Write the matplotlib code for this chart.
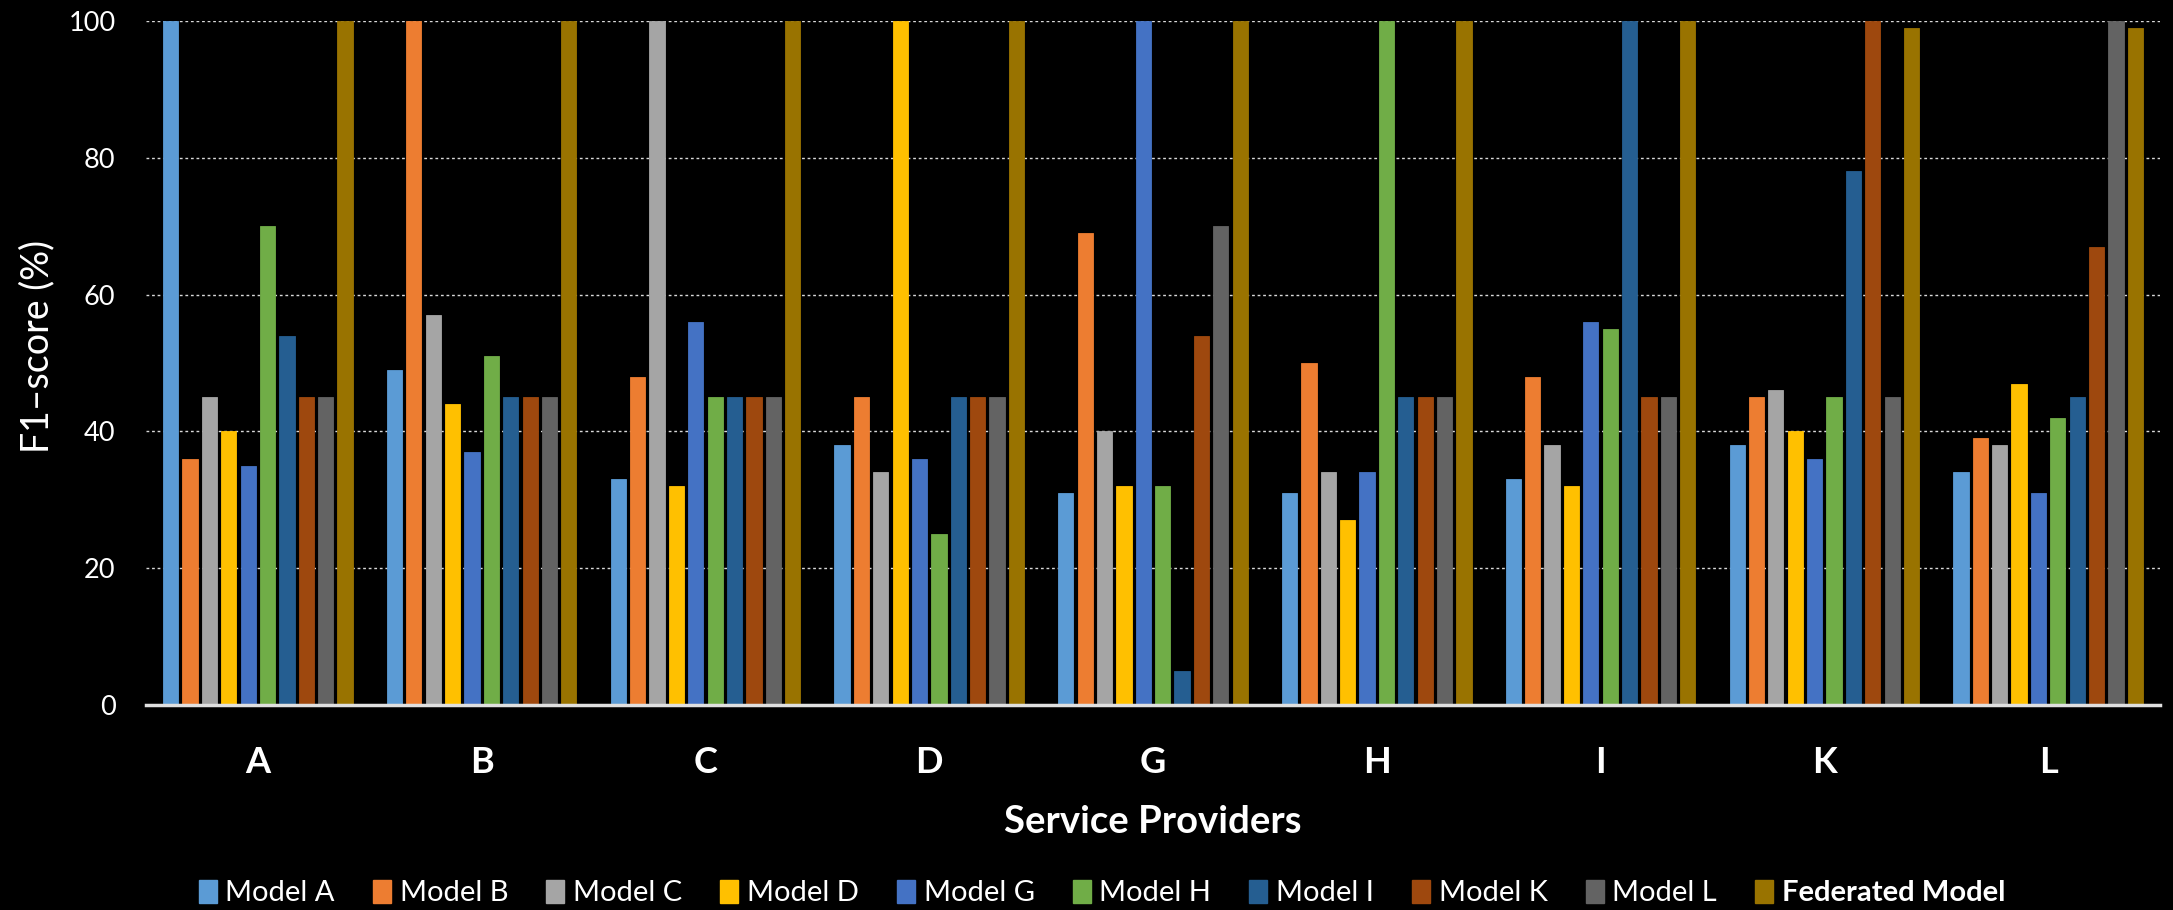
import matplotlib
matplotlib.use("Agg")
import matplotlib.pyplot as plt
import numpy as np
from matplotlib.patches import Patch

plt.rcParams['font.family'] = ['Lato', 'DejaVu Sans']

providers = ["A", "B", "C", "D", "G", "H", "I", "K", "L"]
models = ["Model A", "Model B", "Model C", "Model D", "Model G", "Model H",
          "Model I", "Model K", "Model L", "Federated Model"]
colors = ["#5B9BD5", "#ED7D31", "#A5A5A5", "#FFC000", "#4472C4", "#70AD47",
          "#255E91", "#9E480E", "#636363", "#997300"]

model_a = [100, 49, 33, 38, 31, 31, 33, 38, 34]
model_b = [36, 100, 48, 45, 69, 50, 48, 45, 39]
model_c = [45, 57, 100, 34, 40, 34, 38, 46, 38]
model_d = [40, 44, 32, 100, 32, 27, 32, 40, 47]
model_g = [35, 37, 56, 36, 100, 34, 56, 36, 31]
model_h = [70, 51, 45, 25, 32, 100, 55, 45, 42]
model_i = [54, 45, 45, 45, 5, 45, 100, 78, 45]
model_k = [45, 45, 45, 45, 54, 45, 45, 100, 67]
model_l = [45, 45, 45, 45, 70, 45, 45, 45, 100]
federated = [100, 100, 100, 100, 100, 100, 100, 99, 99]

series = [model_a, model_b, model_c, model_d, model_g, model_h,
          model_i, model_k, model_l, federated]

W, H = 2173, 910
fig = plt.figure(figsize=(W / 100, H / 100), dpi=100, facecolor="black")
ax = fig.add_axes([146 / W, 1 - 705 / H, (2160 - 146) / W, (705 - 21) / H])
ax.set_facecolor("black")

x = np.arange(len(providers))
pitch = 0.0866
width = 0.068
for i, (name, vals, c) in enumerate(zip(models, series, colors)):
    off = (i - 4.5) * pitch
    ax.bar(x + off, vals, width=width, color=c, edgecolor=c, linewidth=0.6,
           zorder=3, label=name)

ax.set_xlim(-0.5, len(providers) - 0.5)
ax.set_ylim(0, 100)
ax.set_yticks([0, 20, 40, 60, 80, 100])
ax.yaxis.grid(True, color="#d9d9d9", linestyle=(0, (2, 2)), linewidth=1.0, zorder=0)
ax.set_axisbelow(True)
for s in ["top", "right", "left"]:
    ax.spines[s].set_visible(False)
ax.spines["bottom"].set_color("#e0e0e0")
ax.spines["bottom"].set_linewidth(2.5)
ax.spines["bottom"].set_zorder(4)

ax.tick_params(axis="both", length=0, colors="white")
ax.tick_params(axis="y", labelsize=19.5, pad=22)
ax.set_xticks(x)
ax.set_xticklabels([])

# category labels (baseline ~773 px from top)
for xi, p in zip(x, providers):
    ax.text(xi, 0, p, transform=ax.get_xaxis_transform(), fontsize=26,
            fontweight="bold", color="white", ha="center", va="baseline")
    ax.texts[-1].set_position((xi, -(773 - 705) / (705 - 21)))

fig.text(37.5 / W, 1 - 346 / H, "F1–score (%)", fontsize=27, color="white",
         rotation=90, ha="center", va="center")

fig.text(0.5 * (146 + 2160) / W, 1 - 833 / H, "Service Providers", fontsize=27.5,
         fontweight="bold", color="white", ha="center", va="baseline")

handles = [Patch(facecolor=c, edgecolor=c) for c in colors]
leg = fig.legend(handles, models, loc="center", bbox_to_anchor=(1102 / W, 1 - 893 / H),
                 ncol=10, frameon=False, fontsize=21, handlelength=0.62,
                 handleheight=0.85, handletextpad=0.3, columnspacing=1.3,
                 borderpad=0.0)
for t in leg.get_texts():
    t.set_color("white")
leg.get_texts()[-1].set_fontweight("bold")

fig.savefig("out.png", dpi=100, facecolor="black")
